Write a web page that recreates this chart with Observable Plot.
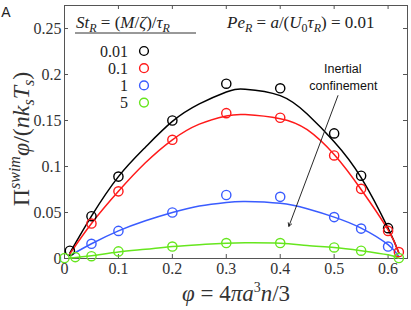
<!DOCTYPE html>
<html><head><meta charset="utf-8">
<script src="https://cdn.jsdelivr.net/npm/d3@7"></script>
<script src="https://cdn.jsdelivr.net/npm/@observablehq/plot@0.6"></script>
<style>
body{margin:0;background:#fff}svg{display:block}
</style>
</head><body><div id="chart"></div>
<script>
const xTicks = [0, 0.1, 0.2, 0.3, 0.4, 0.5, 0.6];
const yTicks = [0, 0.05, 0.1, 0.15, 0.2, 0.25];
const stLabels = ["0.01", "0.1", "1", "5"];
const colors = ["#000000", "#ff1a1a", "#3a5cff", "#66e61e"];

// measured points
const phiBlack = [0.01, 0.05, 0.1, 0.2, 0.3, 0.4, 0.5, 0.55, 0.6];
const valBlack = [0.0085, 0.046, 0.089, 0.150, 0.190, 0.185, 0.136, 0.090, 0.033];
const phiRed = [0.05, 0.1, 0.2, 0.3, 0.4, 0.5, 0.55, 0.6, 0.62];
const valRed = [0.038, 0.073, 0.129, 0.158, 0.153, 0.112, 0.0757, 0.030, 0.007];
const phiBlue = [0.05, 0.1, 0.2, 0.3, 0.4, 0.5, 0.55, 0.6];
const valBlue = [0.016, 0.030, 0.050, 0.069, 0.067, 0.045, 0.0325, 0.013];
const phiGreen = [0.0, 0.02, 0.05, 0.1, 0.2, 0.3, 0.4, 0.5, 0.55, 0.62];
const valGreen = [0.0005, 0.0015, 0.0025, 0.0077, 0.013, 0.0168, 0.0168, 0.012, 0.0085, 0.0005];

// fitted curves
const phiFit = [0.01, 0.05, 0.1, 0.15, 0.2, 0.25, 0.3, 0.335, 0.4, 0.45, 0.5, 0.55, 0.6, 0.62];
const fitBlack = [0.006, 0.046, 0.089, 0.121, 0.149, 0.168, 0.181, 0.184, 0.177, 0.157, 0.127, 0.088, 0.033, 0.006];
const fitRed = [0.005, 0.038, 0.073, 0.104, 0.129, 0.146, 0.155, 0.1565, 0.152, 0.140, 0.113, 0.075, 0.031, 0.006];
const fitBlue = [0.003, 0.016, 0.030, 0.041, 0.050, 0.057, 0.061, 0.062, 0.060, 0.054, 0.045, 0.033, 0.015, 0.002];
const fitGreen = [0.0005, 0.003, 0.007, 0.010, 0.013, 0.015, 0.0165, 0.017, 0.0165, 0.014, 0.012, 0.0085, 0.004, 0.0003];

// annotation arrow (data coordinates)
const arrowFrom = [0.507, 0.177];
const arrowTo = [0.416, 0.035];

const pts = (xs, ys, k) => xs.map((x, i) => ({x, y: ys[i], k}));
const points = [
  ...pts(phiBlack, valBlack, 0), ...pts(phiRed, valRed, 1),
  ...pts(phiBlue, valBlue, 2), ...pts(phiGreen, valGreen, 3)
];
const fits = [fitBlack, fitRed, fitBlue, fitGreen].map((f, k) => pts(phiFit, f, k));

const W = 411, H = 310, mL = 64, mR = 4, mT = 5, mB = 52;
const fw = W - mL - mR, fh = H - mT - mB;
const SERIF = "'Liberation Serif', 'Times New Roman', serif";

const plot = Plot.plot({
  width: W, height: H,
  marginLeft: mL, marginRight: mR, marginTop: mT, marginBottom: mB,
  style: {fontFamily: SERIF, fontSize: "16px", background: "#fff"},
  x: {domain: [0, 0.636], axis: null},
  y: {domain: [0, 0.275], axis: null},
  marks: [
    Plot.frame({stroke: "#555", strokeWidth: 1}),
    Plot.tickX(xTicks, {x: d => d, insetTop: fh - 4, stroke: "#555"}),
    Plot.tickX(xTicks, {x: d => d, insetBottom: fh - 4, stroke: "#555"}),
    Plot.tickY(yTicks, {y: d => d, insetRight: fw - 4, stroke: "#555"}),
    Plot.tickY(yTicks, {y: d => d, insetLeft: fw - 4, stroke: "#555"}),
    Plot.text(xTicks, {x: d => d, frameAnchor: "bottom", dy: 10, text: d => String(d), fontSize: 16, fontFamily: SERIF, fill: "#333", lineAnchor: "middle"}),
    Plot.text(yTicks, {y: d => d, frameAnchor: "left", dx: -3, textAnchor: "end", text: d => String(d), fontSize: 16, fontFamily: SERIF, fill: "#333"}),
    ...fits.map((f, k) => Plot.line(f, {x: "x", y: "y", stroke: colors[k], strokeWidth: 1.5, curve: "natural"})),
    Plot.dot(points, {x: "x", y: "y", r: 4.6, stroke: d => colors[d.k], strokeWidth: 1.4, fill: "none"}),
    Plot.arrow([{x1: arrowFrom[0], y1: arrowFrom[1], x2: arrowTo[0], y2: arrowTo[1]}],
      {x1: "x1", y1: "y1", x2: "x2", y2: "y2", stroke: "#111", strokeWidth: 0.9, headLength: 6}),
    Plot.text([{x: 0.516, y: 0.206, t: "Inertial"}, {x: 0.517, y: 0.187, t: "confinement"}],
      {x: "x", y: "y", text: "t", fontFamily: "'Liberation Sans', Arial, sans-serif", fontSize: 12.5, fill: "#111"})
  ]
});
document.getElementById("chart").appendChild(plot);

const svg = d3.select(plot);

// segments: [text, {i: italic, s: size, b: baseline shift (px, positive = down)}]
function rich(x, y, segs, opts = {}) {
  const t = svg.append("text").attr("x", x).attr("y", y)
    .attr("font-family", SERIF)
    .attr("font-size", opts.size || 17)
    .attr("fill", opts.fill || "#222")
    .attr("text-anchor", opts.anchor || "start");
  if (opts.rotate) t.attr("transform", `rotate(${opts.rotate},${x},${y})`);
  let prev = 0;
  segs.forEach(([txt, o = {}]) => {
    const b = o.b || 0;
    const ts = t.append("tspan").text(txt).attr("dy", b - prev);
    if (o.i) ts.attr("font-style", "italic");
    if (o.s) ts.attr("font-size", o.s);
    prev = b;
  });
  return t;
}
const I = {i: true};

// panel letter
svg.append("text").attr("x", 6).attr("y", 17).attr("font-family", "'Liberation Sans', Arial, sans-serif")
  .attr("font-size", 14).attr("fill", "#222").text("A");

// legend header
rich(76, 28, [["St", I], ["R", {i: true, s: 12, b: 4}], [" = (", {}], ["M", I], ["/", {}], ["ζ", I], [")/", {}], ["τ", I], ["R", {i: true, s: 12, b: 4}]], {size: 17});
svg.append("line").attr("x1", 75).attr("x2", 196).attr("y1", 33).attr("y2", 33).attr("stroke", "#333").attr("stroke-width", 1);
rich(227, 28, [["Pe", I], ["R", {i: true, s: 12, b: 4}], [" = ", {}], ["a", I], ["/(", {}], ["U", I], ["0", {s: 12, b: 4}], ["τ", I], ["R", {i: true, s: 12, b: 4}], [") = 0.01", {}]], {size: 17});

// legend entries
stLabels.forEach((lab, i) => {
  const cy = 51 + i * 17.2;
  rich(128, cy + 5.5, [[lab, {}]], {size: 16, anchor: "end"});
  svg.append("circle").attr("cx", 144).attr("cy", cy).attr("r", 4.4)
    .attr("fill", "none").attr("stroke", colors[i]).attr("stroke-width", 1.4);
});

// axis labels
rich(236, 301, [["φ", I], [" = 4", {}], ["π", I], ["a", I], ["3", {s: 14, b: -9}], ["n", I], ["/3", {}]], {size: 23, anchor: "middle", fill: "#333"});
rich(29, 139, [["Π", {}], ["swim", {i: true, s: 16, b: -9}], ["φ", I], ["/(", {}], ["n", I], ["k", I], ["s", {i: true, s: 16, b: 5}], ["T", I], ["s", {i: true, s: 16, b: 5}], [")", {}]], {size: 24, anchor: "middle", rotate: -90, fill: "#333"});
</script>
</body></html>
